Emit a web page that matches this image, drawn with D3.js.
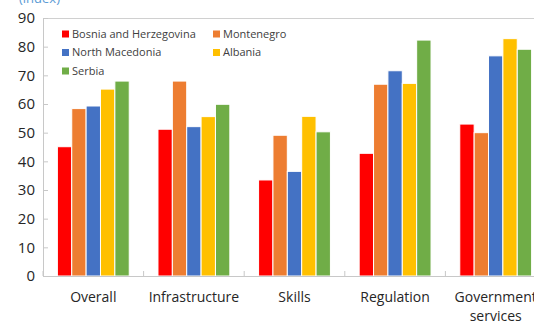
<!DOCTYPE html>
<html>
<head>
<meta charset="utf-8">
<script src="https://cdn.jsdelivr.net/npm/d3@7"></script>
<style>
  html, body { margin: 0; padding: 0; background: #fff; }
  svg { display: block; font-family: "Open Sans", "Noto Sans", sans-serif; }
</style>
</head>
<body>
<svg id="chart" width="534" height="323"></svg>
<script>
// Index scores by pillar for five Western Balkan economies
const categories = [["Overall"], ["Infrastructure"], ["Skills"], ["Regulation"], ["Government", "services"]];
const seriesNames = ["Bosnia and Herzegovina", "Montenegro", "North Macedonia", "Albania", "Serbia"];
const seriesColors = ["#FF0000", "#ED7D31", "#4472C4", "#FFC000", "#70AD47"];
const bosnia     = [45.1, 51.2, 33.5, 42.8, 53.0];
const montenegro = [58.4, 68.0, 49.1, 66.9, 50.0];
const macedonia  = [59.3, 52.1, 36.5, 71.6, 76.8];
const albania    = [65.2, 55.6, 55.7, 67.2, 82.8];
const serbia     = [68.0, 59.9, 50.3, 82.3, 79.1];
const seriesValues = [bosnia, montenegro, macedonia, albania, serbia];
const yTicks = [0, 10, 20, 30, 40, 50, 60, 70, 80, 90];

const svg = d3.select("#chart");
const plot = { left: 43, right: 546, top: 18, bottom: 276 };

const x0 = d3.scaleBand()
  .domain(d3.range(categories.length))
  .range([plot.left, plot.right])
  .padding(0);

const x1 = d3.scaleBand()
  .domain(d3.range(seriesNames.length))
  .range([0, x0.bandwidth()])
  .paddingInner(0)
  .paddingOuter(1);

const y = d3.scaleLinear().domain([0, 90]).range([plot.bottom, plot.top]);

// Unit label above the value axis
svg.append("text")
  .attr("x", 19).attr("y", 3)
  .attr("fill", "#5B9BD5")
  .attr("font-size", 13)
  .text("(index)");

// Plot frame (top edge)
svg.append("line")
  .attr("x1", plot.left).attr("x2", plot.right)
  .attr("y1", plot.top + 0.5).attr("y2", plot.top + 0.5)
  .attr("stroke", "#D0D0D0");

// Bars
const groups = svg.append("g").selectAll("g")
  .data(categories)
  .join("g")
  .attr("transform", (d, i) => `translate(${x0(i)},0)`);

groups.selectAll("rect")
  .data((d, i) => seriesValues.map((vals, s) => ({ s, v: vals[i] })))
  .join("rect")
  .attr("x", d => x1(d.s))
  .attr("width", x1.bandwidth())
  .attr("y", d => y(d.v))
  .attr("height", d => y(0) - y(d.v))
  .attr("fill", d => seriesColors[d.s])
  .attr("stroke", "#fff")
  .attr("stroke-width", 1);

// Value axis
const yAxis = svg.append("g")
  .attr("transform", `translate(${plot.left},0)`)
  .call(d3.axisRight(y).tickValues(yTicks).tickSize(5).tickFormat(""));
yAxis.select(".domain").attr("stroke", "#C8C8C8");
yAxis.selectAll(".tick line").attr("stroke", "#C8C8C8");

svg.append("g").selectAll("text")
  .data(yTicks)
  .join("text")
  .attr("x", 35)
  .attr("y", d => y(d))
  .attr("dy", "0.35em")
  .attr("text-anchor", "end")
  .attr("font-size", 15)
  .attr("fill", "#262626")
  .text(d => d);

// Category axis
const xAxis = svg.append("g")
  .attr("transform", `translate(0,${plot.bottom})`)
  .call(d3.axisTop(x0).tickSize(0).tickFormat(""));
xAxis.select(".domain").attr("stroke", "#C8C8C8");
xAxis.selectAll(".tick").remove();

svg.append("g").selectAll("line")
  .data(d3.range(categories.length + 1))
  .join("line")
  .attr("x1", i => plot.left + i * x0.step())
  .attr("x2", i => plot.left + i * x0.step())
  .attr("y1", plot.bottom)
  .attr("y2", plot.bottom - 5)
  .attr("stroke", "#C8C8C8");

const catLabels = svg.append("g").selectAll("text")
  .data(categories)
  .join("text")
  .attr("x", (d, i) => x0(i) + x0.bandwidth() / 2)
  .attr("y", 302)
  .attr("text-anchor", "middle")
  .attr("font-size", 14)
  .attr("fill", "#262626");
catLabels.selectAll("tspan")
  .data(d => d)
  .join("tspan")
  .attr("x", function () { return this.parentNode.getAttribute("x"); })
  .attr("dy", (d, j) => j === 0 ? 0 : 19)
  .text(d => d);

// Legend
const legendCols = [62, 213];
const legendRows = [34, 52.5, 71];
const legend = svg.append("g").selectAll("g")
  .data(seriesNames)
  .join("g")
  .attr("transform", (d, i) => `translate(${legendCols[i % 2]},${legendRows[Math.floor(i / 2)]})`);
legend.append("rect")
  .attr("x", 0).attr("y", -3.5)
  .attr("width", 7).attr("height", 7)
  .attr("fill", (d, i) => seriesColors[i]);
legend.append("text")
  .attr("x", 10).attr("y", 0)
  .attr("dy", "0.35em")
  .attr("font-size", 11)
  .attr("fill", "#404040")
  .text(d => d);
</script>
</body>
</html>
